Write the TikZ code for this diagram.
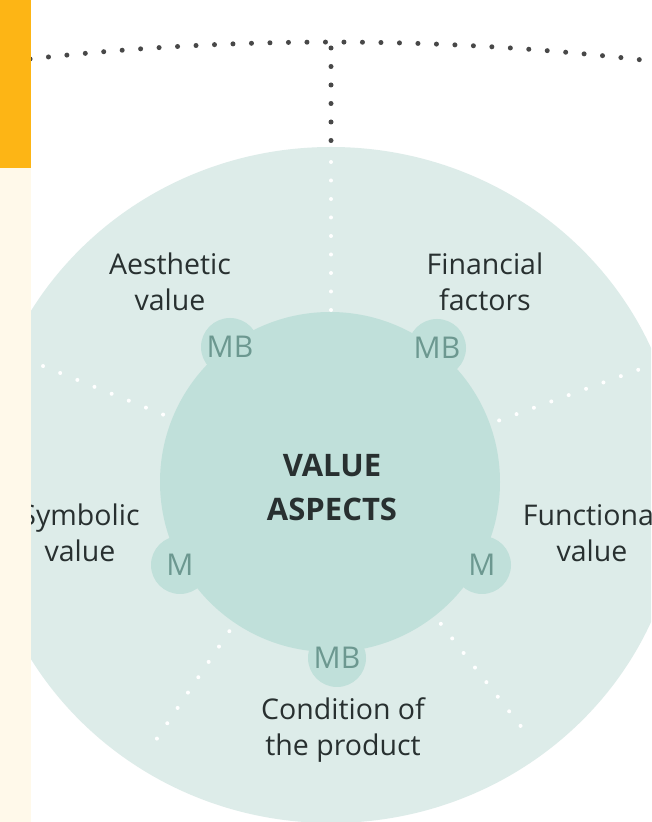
\documentclass[tikz,border=0pt]{standalone}
\usepackage{fontspec}
\setmainfont{Open Sans}
\definecolor{amber}{RGB}{253,181,21}
\definecolor{cream}{RGB}{255,249,234}
\definecolor{ringteal}{RGB}{221,236,233}
\definecolor{coreteal}{RGB}{192,224,218}
\definecolor{marktext}{RGB}{108,152,144}
\definecolor{labeltext}{RGB}{40,48,48}
\definecolor{dotgray}{RGB}{72,72,72}

\begin{document}
\begin{tikzpicture}[x=1pt,y=1pt,
    label/.style={align=center,inner sep=0pt,text=labeltext,
      font=\fontsize{28.5}{36}\selectfont},
    bump/.style={circle,fill=coreteal,minimum size=58pt,inner sep=0pt},
    mbtext/.style={text=marktext,font=\fontsize{30}{30}\selectfont},
    whitedots/.style={white,line width=4pt,line cap=round,dash pattern=on 0pt off 18.5pt},
    greydots/.style={dotgray,line width=5pt,line cap=round,dash pattern=on 0pt off 18.5pt}]
    \useasboundingbox (0,0) rectangle (651,822);
    \clip (0,0) rectangle (651,822);
    \fill[white] (0,0) rectangle (651,822);
    % outer ring and core
    \fill[ringteal] (331,337) ellipse [x radius=350pt, y radius=338pt];
    \foreach \a/\r in {20/330,158/315,236/325,308/320}
      \draw[whitedots] (330,340) ++(\a:180) -- ++(\a:\r-180);
    \draw[whitedots] (331,512) -- (331,675);
    \node[bump] (mbAesthetic) at (230,475) {};
    \node[bump] (mbFinancial) at (437,474) {};
    \node[bump] (mSymbolic) at (180,257) {};
    \node[bump] (mFunctional) at (482,257) {};
    \node[bump] (mbCondition) at (337,164) {};
    \fill[coreteal] (330,340) circle (170pt);
    \node[mbtext] at (mbAesthetic) {MB};
    \node[mbtext] at (mbFinancial) {MB};
    \node[mbtext] at (mSymbolic) {M};
    \node[mbtext] at (mFunctional) {M};
    \node[mbtext] at (mbCondition) {MB};
    \node[label,font=\bfseries\fontsize{31}{44}\selectfont] (core) at (332,334) {VALUE\\ASPECTS};
    % aspect labels
    \node[label] (aesthetic) at (170,540) {Aesthetic\\value};
    \node[label] (financial) at (485,540) {Financial\\factors};
    \node[label] (symbolic) at (80,289) {Symbolic\\value};
    \node[label] (functional) at (592,289) {Functional\\value};
    \node[label] (condition) at (343,92) {Condition of\\the product};
    % dotted arc at the top
    \draw[greydots] (331,-1920) ++(96.4:2700pt) arc[start angle=96.4,end angle=83,radius=2700pt];
    \draw[greydots] (331,774) -- (331,680);
    % side strip
    \fill[cream] (0,0) rectangle (31,654);
    \fill[amber] (0,654) rectangle (31,822);
\end{tikzpicture}
\end{document}
